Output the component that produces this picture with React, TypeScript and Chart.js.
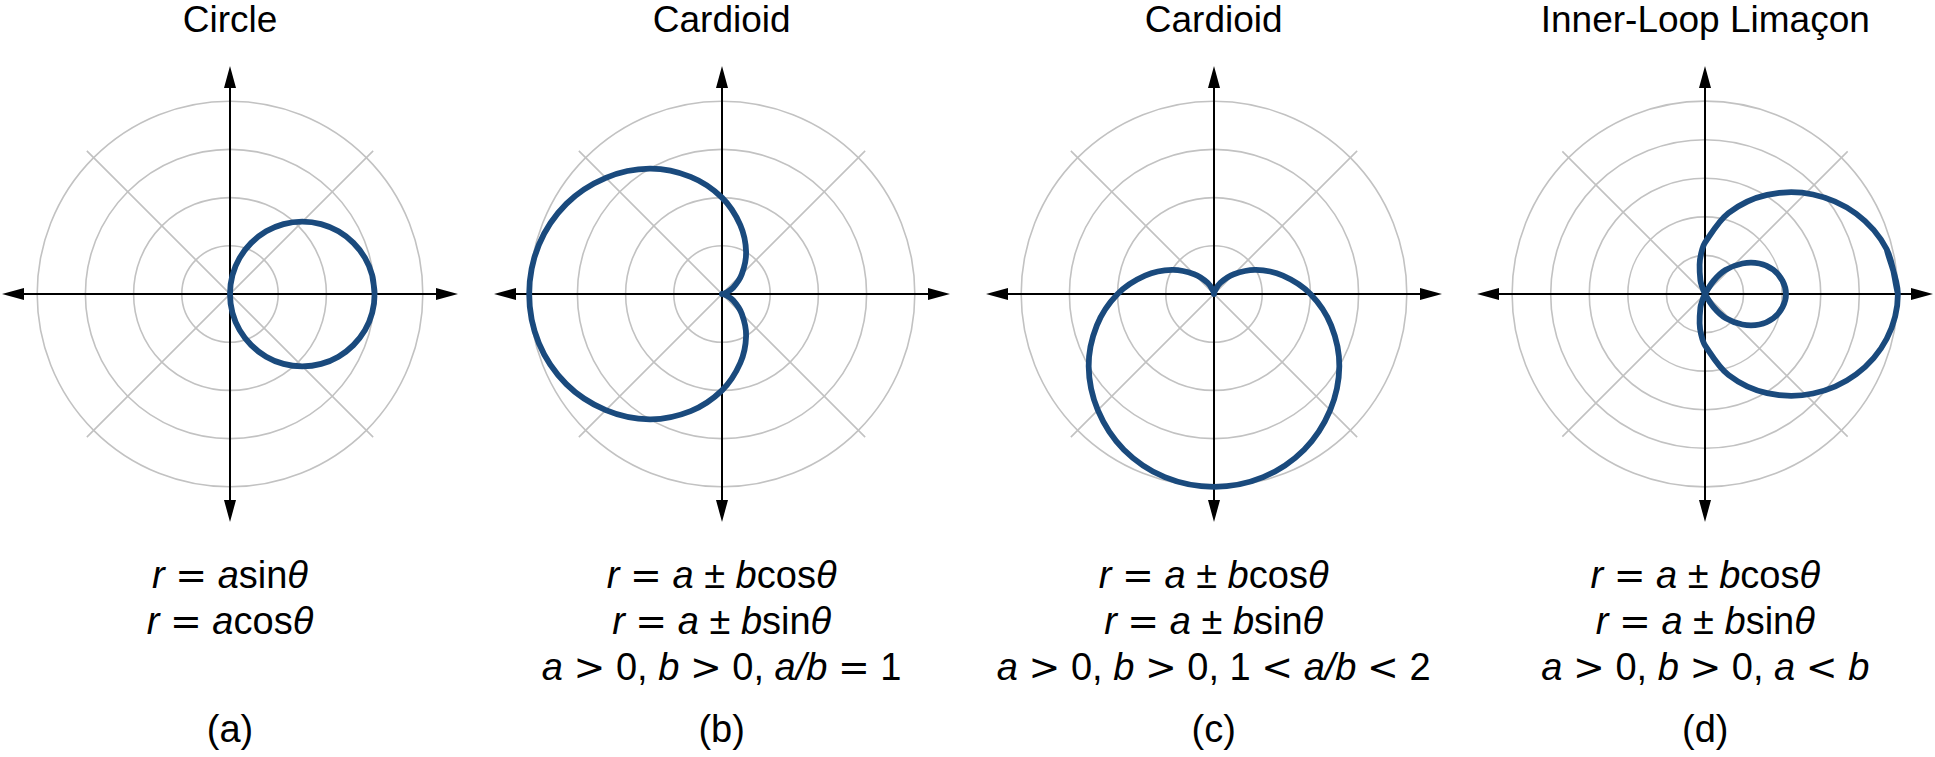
import React, { useEffect, useRef } from "react";
import { Chart, registerables } from "chart.js";

Chart.register(...registerables);

// ---------- data ----------
const TITLES = ["Circle", "Cardioid", "Cardioid", "Inner-Loop Limaçon"];
const PANEL_LABELS = ["(a)", "(b)", "(c)", "(d)"];

// '*' toggles italic
const FORMULA_A = ["*r* = *a*sin*θ*", "*r* = *a*cos*θ*"];
const FORMULA_B = ["*r* = *a* ± *b*cos*θ*", "*r* = *a* ± *b*sin*θ*", "*a* > 0, *b* > 0, *a/b* = 1"];
const FORMULA_C = ["*r* = *a* ± *b*cos*θ*", "*r* = *a* ± *b*sin*θ*", "*a* > 0, *b* > 0, 1 < *a/b* < 2"];
const FORMULA_D = ["*r* = *a* ± *b*cos*θ*", "*r* = *a* ± *b*sin*θ*", "*a* > 0, *b* > 0, *a* < *b*"];
const FORMULAS = [FORMULA_A, FORMULA_B, FORMULA_C, FORMULA_D];

// polar grid: number of rings, axis extent, diagonal extent (ring units)
const RING_COUNTS = [4, 4, 4, 5];
const AXIS_LIMITS = [4.73, 4.73, 4.73, 5.91];
const DIAG_LIMITS = [4.2, 4.2, 4.2, 5.23];

// curves (x, y in ring units)
const CIRCLE_X = [3.0, 2.95, 2.8, 2.56, 2.25, 1.89, 1.5, 1.11, 0.75, 0.44, 0.2, 0.05, 0.0, 0.05, 0.2, 0.44, 0.75, 1.11, 1.5, 1.89, 2.25, 2.56, 2.8, 2.95, 3.0, 2.95];
const CIRCLE_Y = [0.0, 0.39, 0.75, 1.06, 1.3, 1.45, 1.5, 1.45, 1.3, 1.06, 0.75, 0.39, 0.0, -0.39, -0.75, -1.06, -1.3, -1.45, -1.5, -1.45, -1.3, -1.06, -0.75, -0.39, 0.0, 0.39];

const CARDIOID_B_X = [0.0, 0.07, 0.23, 0.41, 0.5, 0.38, 0.0, -0.65, -1.5, -2.41, -3.23, -3.8, -4.0, -3.8, -3.23, -2.41, -1.5, -0.65, 0.0, 0.38, 0.5, 0.41, 0.23, 0.07, 0.0];
const CARDIOID_B_Y = [0.0, 0.02, 0.13, 0.41, 0.87, 1.43, 2.0, 2.43, 2.6, 2.41, 1.87, 1.02, 0.0, -1.02, -1.87, -2.41, -2.6, -2.43, -2.0, -1.43, -0.87, -0.41, -0.13, -0.02, 0.0];

const CARDIOID_C_X = [0.0, -0.02, -0.13, -0.41, -0.87, -1.43, -2.0, -2.43, -2.6, -2.41, -1.87, -1.02, 0.0, 1.02, 1.87, 2.41, 2.6, 2.43, 2.0, 1.43, 0.87, 0.41, 0.13, 0.02, 0.0];
const CARDIOID_C_Y = [0.0, 0.07, 0.23, 0.41, 0.5, 0.38, 0.0, -0.65, -1.5, -2.41, -3.23, -3.8, -4.0, -3.8, -3.23, -2.41, -1.5, -0.65, 0.0, 0.38, 0.5, 0.41, 0.23, 0.07, 0.0];

const LIMACON_X = [5.0, 4.71, 3.92, 2.8, 1.61, 0.61, 0.0, -0.1, -0.14, -0.12, -0.08, 0.0, 0.23, 0.53, 0.97, 1.41, 1.77, 2.01, 2.1, 2.01, 1.77, 1.41, 0.97, 0.53, 0.23, 0.0, -0.08, -0.12, -0.14, -0.1, 0.0, 0.61, 1.61, 2.8, 3.92, 4.71, 5.0, 4.71];
const LIMACON_Y = [0.0, 1.16, 2.08, 2.58, 2.57, 2.1, 1.33, 1.05, 0.76, 0.36, 0.2, 0.0, -0.35, -0.62, -0.79, -0.79, -0.63, -0.34, 0.0, 0.34, 0.63, 0.79, 0.79, 0.62, 0.35, 0.0, -0.2, -0.36, -0.76, -1.05, -1.33, -2.1, -2.57, -2.58, -2.08, -1.16, 0.0, 1.16];

const CURVES_X = [CIRCLE_X, CARDIOID_B_X, CARDIOID_C_X, LIMACON_X];
const CURVES_Y = [CIRCLE_Y, CARDIOID_B_Y, CARDIOID_C_Y, LIMACON_Y];

// ---------- layout / style ----------
const PANEL_CENTERS_X = [230, 721.7, 1213.7, 1705.3];
const CENTER_Y = 294;
const HALF = 234; // canvas half size in px
const AXIS_PX = 228; // axis half length in px
const CURVE_COLOR = "#1a4a7d";
const GRID_COLOR = "#c2c2c2";
const FONT = '"Liberation Sans", Arial, sans-serif';
const OP_FONT = '"DejaVu Sans", sans-serif';
const OPERATORS = "=<>";

const polarGrid = {
  id: "polarGrid",
  beforeDatasetsDraw(chart: any, _args: any, opts: any) {
    const { ctx } = chart;
    const xs = chart.scales.x;
    const ys = chart.scales.y;
    const px = (v: number) => xs.getPixelForValue(v);
    const py = (v: number) => ys.getPixelForValue(v);
    const cx = px(0);
    const cy = py(0);
    const ux = px(1) - cx;
    const uy = cy - py(1);
    ctx.save();
    ctx.strokeStyle = GRID_COLOR;
    ctx.lineWidth = 1.6;
    for (let k = 1; k <= opts.rings; k++) {
      ctx.beginPath();
      ctx.ellipse(cx, cy, k * ux, k * uy, 0, 0, Math.PI * 2);
      ctx.stroke();
    }
    const d = opts.diag / Math.SQRT2;
    ctx.beginPath();
    ctx.moveTo(px(-d), py(-d));
    ctx.lineTo(px(d), py(d));
    ctx.moveTo(px(-d), py(d));
    ctx.lineTo(px(d), py(-d));
    ctx.stroke();

    // axes
    const L = opts.axis;
    const head = 22;
    const hw = 6;
    ctx.strokeStyle = "#000";
    ctx.fillStyle = "#000";
    ctx.lineWidth = 2;
    ctx.beginPath();
    ctx.moveTo(px(-L) + head - 2, cy);
    ctx.lineTo(px(L) - head + 2, cy);
    ctx.moveTo(cx, py(L) + head - 2);
    ctx.lineTo(cx, py(-L) - head + 2);
    ctx.stroke();
    const tri = (tx: number, ty: number, dx: number, dy: number) => {
      const bx = tx - dx * head;
      const by = ty - dy * head;
      ctx.beginPath();
      ctx.moveTo(tx, ty);
      ctx.lineTo(bx - dy * hw, by + dx * hw);
      ctx.lineTo(bx + dy * hw, by - dx * hw);
      ctx.closePath();
      ctx.fill();
    };
    tri(px(L), cy, 1, 0);
    tri(px(-L), cy, -1, 0);
    tri(cx, py(L), 0, -1);
    tri(cx, py(-L), 0, 1);
    ctx.restore();
  },
};

function renderMath(line: string) {
  const out: any[] = [];
  let italic = false;
  let buf = "";
  let key = 0;
  const flush = () => {
    if (!buf) return;
    out.push(
      italic ? <i key={key++}>{buf}</i> : <span key={key++}>{buf}</span>
    );
    buf = "";
  };
  for (const ch of line) {
    if (ch === "*") {
      flush();
      italic = !italic;
    } else if (OPERATORS.includes(ch)) {
      flush();
      out.push(
        <span key={key++} style={{ fontFamily: OP_FONT, fontStyle: "normal" }}>
          {ch}
        </span>
      );
    } else {
      buf += ch;
    }
  }
  flush();
  return out;
}

function Panel({ index }: { index: number }) {
  const ref = useRef<HTMLCanvasElement | null>(null);
  const cx = PANEL_CENTERS_X[index];
  useEffect(() => {
    if (!ref.current) return;
    const axis = AXIS_LIMITS[index];
    const view = (axis * HALF) / AXIS_PX;
    const xsArr = CURVES_X[index];
    const ysArr = CURVES_Y[index];
    const pts = xsArr.map((x, i) => ({ x, y: ysArr[i] }));
    const chart = new Chart(ref.current, {
      type: "scatter",
      data: {
        datasets: [
          {
            data: pts,
            showLine: true,
            borderColor: CURVE_COLOR,
            borderWidth: 5.8,
            pointRadius: 0,
            tension: 0.33,
            fill: false,
            borderCapStyle: "round",
            borderJoinStyle: "round",
          } as any,
        ],
      },
      options: {
        animation: false,
        responsive: false,
        maintainAspectRatio: false,
        layout: { padding: 0 },
        events: [],
        plugins: {
          legend: { display: false },
          tooltip: { enabled: false },
          title: { display: false },
          polarGrid: { rings: RING_COUNTS[index], axis, diag: DIAG_LIMITS[index] },
        } as any,
        scales: {
          x: { type: "linear", min: -view, max: view, display: false },
          y: { type: "linear", min: -view, max: view, display: false },
        },
      },
      plugins: [polarGrid],
    });
    return () => chart.destroy();
  }, [index]);

  const lines = FORMULAS[index];
  return (
    <>
      <div
        style={{
          position: "absolute",
          left: cx - 300,
          width: 600,
          top: 1.9,
          fontFamily: FONT,
          fontSize: 37,
          lineHeight: "36px",
          textAlign: "center",
          color: "#000",
          whiteSpace: "pre",
        }}
      >
        {TITLES[index]}
      </div>
      <canvas
        ref={ref}
        width={HALF * 2}
        height={HALF * 2}
        style={{
          position: "absolute",
          left: cx - HALF,
          top: CENTER_Y - HALF,
          width: HALF * 2,
          height: HALF * 2,
        }}
      />
      <div
        style={{
          position: "absolute",
          left: cx - 300,
          width: 600,
          top: 551.8,
          fontFamily: FONT,
          fontSize: 38,
          lineHeight: "46px",
          textAlign: "center",
          color: "#000",
          whiteSpace: "pre",
        }}
      >
        {lines.map((l, i) => (
          <div key={i} style={{ height: 46 }}>
            {renderMath(l)}
          </div>
        ))}
      </div>
      <div
        style={{
          position: "absolute",
          left: cx - 300,
          width: 600,
          top: 705.8,
          fontFamily: FONT,
          fontSize: 38,
          lineHeight: "46px",
          textAlign: "center",
          color: "#000",
        }}
      >
        {PANEL_LABELS[index]}
      </div>
    </>
  );
}

export default function App() {
  return (
    <div
      style={{
        position: "fixed",
        left: 0,
        top: 0,
        width: 1935,
        height: 757,
        overflow: "hidden",
        background: "#fff",
      }}
    >
      {[0, 1, 2, 3].map((i) => (
        <Panel key={i} index={i} />
      ))}
    </div>
  );
}
